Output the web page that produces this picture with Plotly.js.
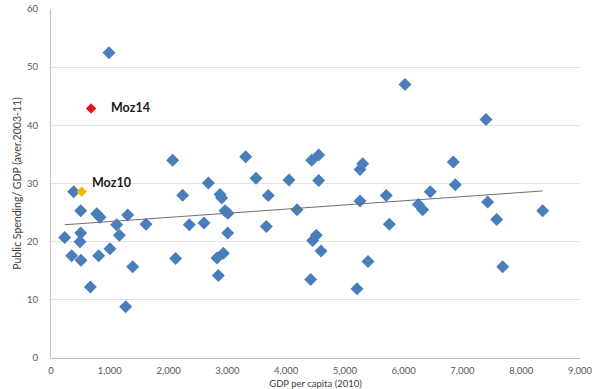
<!DOCTYPE html>
<html>
<head>
<meta charset="utf-8">
<script src="https://cdn.plot.ly/plotly-3.0.1.min.js"></script>
<style>
  html, body { margin: 0; padding: 0; background: #fff; }
  #chart { width: 595px; height: 389px; }
</style>
</head>
<body>
<div id="chart"></div>
<script>
// GDP per capita (2010 US$) and average public spending as % of GDP (2003-11)
const gdpPerCapita = [
  987, 2070, 386, 2677, 2240, 2875, 2904, 505, 777, 834, 1305, 1117, 1616, 2353,
  2603, 2960, 3010, 3006, 233, 505, 493, 1163, 352, 510, 811, 1004, 2121, 2824,
  2932, 1390, 2847, 669, 1271,
  3312, 4435, 4554, 5303, 5257, 3488, 4049, 4554, 3697, 5704, 5257, 4185, 3663,
  4514, 4452, 4594, 5756, 5393, 4418, 5206,
  6023, 7401, 6845, 6879, 6453, 6249, 6324, 7429, 7583, 8365, 7685
];
const spendingShare = [
  52.5, 34.0, 28.6, 30.1, 28.0, 28.1, 27.5, 25.3, 24.8, 24.2, 24.6, 22.9, 23.0, 22.9,
  23.2, 25.3, 24.9, 21.5, 20.7, 21.5, 20.0, 21.1, 17.6, 16.8, 17.6, 18.8, 17.1, 17.2,
  18.0, 15.7, 14.2, 12.2, 8.8,
  34.6, 34.0, 34.9, 33.4, 32.4, 30.9, 30.6, 30.5, 27.95, 27.95, 27.0, 25.5, 22.6,
  21.1, 20.2, 18.4, 23.0, 16.6, 13.5, 11.9,
  47.0, 41.0, 33.7, 29.8, 28.6, 26.4, 25.5, 26.8, 23.8, 25.3, 15.7
];

// Mozambique highlighted separately
const mozLabels = ['Moz14', 'Moz10'];
const mozGdp = [681, 522];
const mozSpending = [42.9, 28.6];
const mozColors = ['#e8141b', '#f5b800'];

const xTicks = [0, 1000, 2000, 3000, 4000, 5000, 6000, 7000, 8000, 9000];
const yTicks = [0, 10, 20, 30, 40, 50, 60];

// Ordinary least-squares trend over all observations, Mozambique included
function linearFit(xs, ys) {
  const n = xs.length;
  let sx = 0, sy = 0, sxx = 0, sxy = 0;
  for (let i = 0; i < n; i++) {
    sx += xs[i]; sy += ys[i]; sxx += xs[i] * xs[i]; sxy += xs[i] * ys[i];
  }
  const slope = (n * sxy - sx * sy) / (n * sxx - sx * sx);
  const intercept = (sy - slope * sx) / n;
  return { slope, intercept };
}
const allX = gdpPerCapita.concat(mozGdp);
const allY = spendingShare.concat(mozSpending);
const fit = linearFit(allX, allY);
const xMin = Math.min(...allX), xMax = Math.max(...allX);
const trendX = [xMin, xMax];
const trendY = trendX.map(v => fit.intercept + fit.slope * v);

const fontFamily = 'Lato, "Open Sans", sans-serif';

const traces = [
  {
    type: 'scatter', mode: 'markers',
    x: gdpPerCapita, y: spendingShare,
    marker: { symbol: 'diamond', size: 10, color: '#4a7ebb' },
    hoverinfo: 'x+y'
  },
  {
    type: 'scatter', mode: 'lines',
    x: trendX, y: trendY,
    line: { color: '#707070', width: 1 },
    hoverinfo: 'skip'
  },
  {
    type: 'scatter', mode: 'markers',
    x: mozGdp, y: mozSpending, text: mozLabels,
    marker: { symbol: 'diamond', size: 8, color: mozColors },
    hoverinfo: 'text+x+y'
  }
];

const labelShifts = [{ x: 18, y: 1 }, { x: 8, y: 9 }];
const annotations = mozLabels.map((t, i) => ({
  x: mozGdp[i], y: mozSpending[i], xref: 'x', yref: 'y',
  text: '<b>' + t + '</b>', showarrow: false,
  xanchor: 'left', yanchor: 'middle',
  xshift: labelShifts[i].x, yshift: labelShifts[i].y,
  font: { family: fontFamily, size: 12.5, color: '#1a1a1a' }
}));

const layout = {
  width: 595, height: 389,
  margin: { l: 51, r: 15, t: 9, b: 31 },
  paper_bgcolor: '#ffffff', plot_bgcolor: '#ffffff',
  showlegend: false,
  font: { family: fontFamily, color: '#595959' },
  xaxis: {
    range: [0, 9000], tickvals: xTicks, tickformat: ',d',
    showgrid: false, zeroline: false,
    showline: true, linecolor: '#bfbfbf', linewidth: 1,
    ticks: '', ticklabelstandoff: 4,
    tickfont: { size: 9.5, color: '#595959' },
    title: { text: 'GDP per capita (2010)', font: { size: 9.5, color: '#404040' }, standoff: 4 }
  },
  yaxis: {
    range: [0, 60], tickvals: yTicks,
    showgrid: true, gridcolor: '#e3e3e3', gridwidth: 1,
    zeroline: false,
    showline: true, linecolor: '#bfbfbf', linewidth: 1,
    ticks: '', ticklabelstandoff: 10,
    tickfont: { size: 9.5, color: '#595959' },
    title: { text: 'Public Spending/ GDP (aver.2003-11)', font: { size: 10.5, color: '#404040' }, standoff: 3 }
  },
  annotations: annotations
};

Plotly.newPlot('chart', traces, layout, { displayModeBar: false, staticPlot: true });
</script>
</body>
</html>
